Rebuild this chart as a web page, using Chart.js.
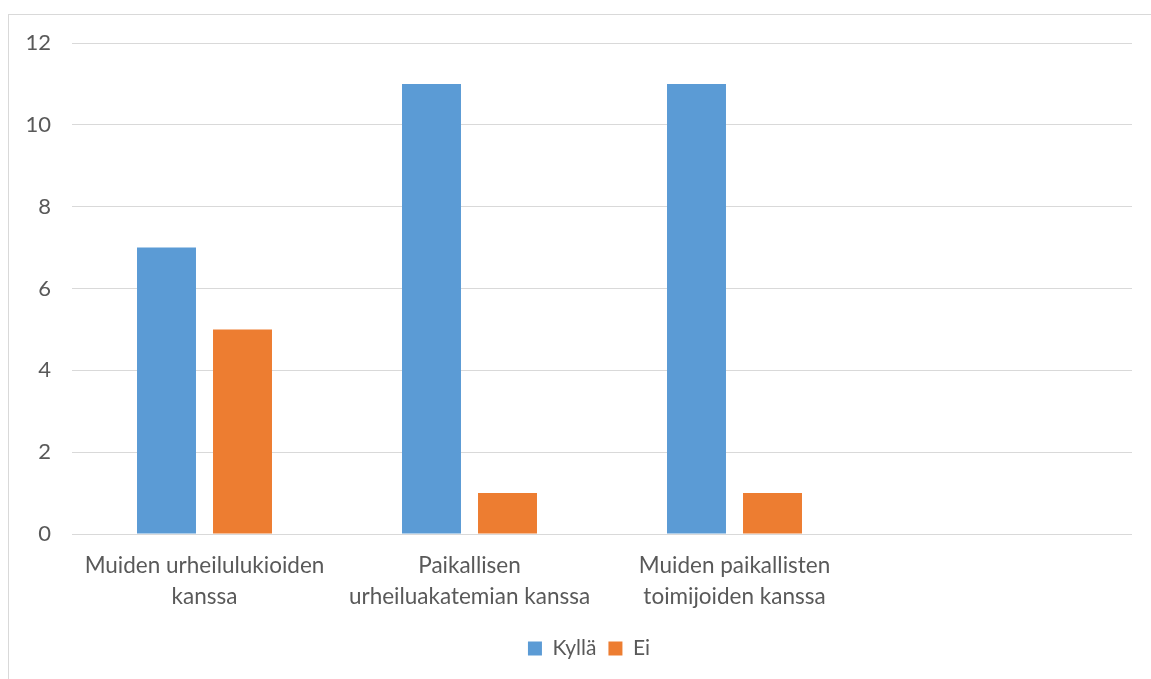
<!DOCTYPE html>
<html>
<head>
<meta charset="utf-8">
<script src="https://cdn.jsdelivr.net/npm/chart.js@4.4.0/dist/chart.umd.min.js"></script>
<style>
  html, body { margin: 0; padding: 0; background: #ffffff; overflow: hidden; }
  #frame { position: absolute; left: 8px; top: 14px; width: 1200px; height: 700px; border: 1px solid #d9d9d9; box-sizing: border-box; }
  #wrap { position: absolute; left: 0; top: 0; width: 1151px; height: 679px; }
</style>
</head>
<body>
<div id="frame"></div>
<div id="wrap"><canvas id="c" width="1151" height="679"></canvas></div>
<script>
const categories = [
  ["Muiden urheilulukioiden", "kanssa"],
  ["Paikallisen", "urheiluakatemian kanssa"],
  ["Muiden paikallisten", "toimijoiden kanssa"],
  ""
];
const seriesNames = ["Kyllä", "Ei"];
const kyllaValues = [7, 11, 11, null];
const eiValues = [5, 1, 1, null];
const yTicks = [0, 2, 4, 6, 8, 10, 12];

const FONT = "Lato";
const TEXT = "#595959";

const legendShift = {
  id: "legendShift",
  beforeDraw(chart) {
    const lg = chart.legend;
    if (lg && !lg._shifted) {
      lg.left += 23; lg.right += 23; lg._shifted = true;
    }
  }
};

new Chart(document.getElementById("c"), {
  type: "bar",
  data: {
    labels: categories,
    datasets: [
      { label: seriesNames[0], data: kyllaValues, backgroundColor: "#5B9BD5", categoryPercentage: 0.5736, barPercentage: 0.776 },
      { label: seriesNames[1], data: eiValues, backgroundColor: "#ED7D31", categoryPercentage: 0.5736, barPercentage: 0.776 }
    ]
  },
  plugins: [legendShift],
  options: {
    responsive: false,
    animation: false,
    devicePixelRatio: 1,
    layout: { padding: { left: 0, right: 19, top: 43, bottom: 10 } },
    plugins: {
      tooltip: { enabled: false },
      legend: {
        position: "bottom",
        labels: {
          color: TEXT,
          font: { family: FONT, size: 21, lineHeight: 1 },
          boxWidth: 14,
          boxHeight: 14,
          padding: 12
        }
      }
    },
    scales: {
      x: {
        grid: { display: false },
        border: { display: false },
        ticks: { color: TEXT, font: { family: FONT, size: 22.5, lineHeight: 1.35 }, maxRotation: 0, autoSkip: false, padding: 9 },
        afterFit: (s) => { s.height = 92; }
      },
      y: {
        min: 0, max: 12,
        afterBuildTicks: (s) => { s.ticks = yTicks.map(v => ({ value: v })); },
        grid: { color: "#d9d9d9", lineWidth: 1, drawTicks: false },
        border: { display: false },
        ticks: { color: TEXT, font: { family: FONT, size: 22 }, padding: 21 },
        afterFit: (s) => { s.width = 72; }
      }
    }
  }
});
</script>
</body>
</html>
